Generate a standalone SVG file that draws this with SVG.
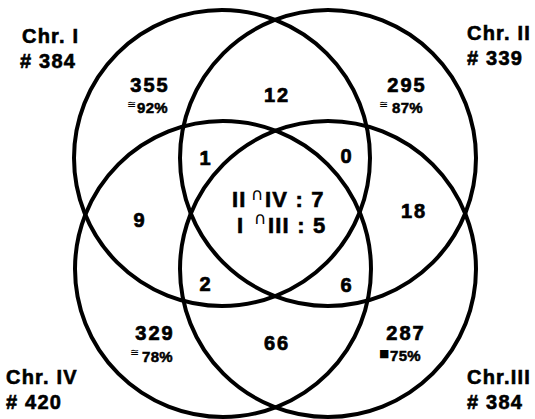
<svg xmlns="http://www.w3.org/2000/svg" width="535" height="419" viewBox="0 0 535 419">
<style>
.c{fill:none;stroke:#000;stroke-width:4}
.l{font-family:"Liberation Sans",Arial,sans-serif;font-weight:bold;font-size:20px;letter-spacing:1.2px;fill:#000;stroke:#000;stroke-width:0.6}
.n{font-family:"Liberation Sans",Arial,sans-serif;font-weight:bold;font-size:20px;letter-spacing:2px;fill:#000;stroke:#000;stroke-width:0.7;text-anchor:middle}
.p{font-family:"Liberation Sans",Arial,sans-serif;font-weight:bold;font-size:15px;letter-spacing:0.3px;fill:#000;stroke:#000;stroke-width:0.5}
.s{font-family:"DejaVu Sans",sans-serif;font-size:11px;fill:#000}
.k{font-family:"Liberation Sans",Arial,sans-serif;font-weight:bold;font-size:22px;letter-spacing:1.2px;fill:#000;stroke:#000;stroke-width:0.6}
.u{font-family:"DejaVu Sans",sans-serif;font-size:17px;fill:#000}
</style>
<rect width="535" height="419" fill="#fff"/>
<g id="chr-I">
<circle class="c" cx="222" cy="158" r="148"/>
<text class="l" x="22" y="43">Chr. I</text>
<text class="l" x="20" y="68"># 384</text>
</g>
<g id="chr-II">
<circle class="c" cx="328" cy="158" r="148"/>
<text class="l" x="467" y="40">Chr. II</text>
<text class="l" x="467" y="65"># 339</text>
</g>
<g id="chr-IV">
<circle class="c" cx="223" cy="269" r="148"/>
<text class="l" x="6" y="384">Chr. IV</text>
<text class="l" x="6" y="409"># 420</text>
</g>
<g id="chr-III">
<circle class="c" cx="328" cy="269" r="148"/>
<text class="l" x="467" y="384">Chr.III</text>
<text class="l" x="467" y="409"># 384</text>
</g>
<g id="regions">
<text class="n" x="150" y="92">355</text>
<text class="s" x="127" y="108">≅</text>
<text class="p" x="137" y="113">92%</text>
<text class="n" x="277" y="102">12</text>
<text class="n" x="407" y="92">295</text>
<text class="s" x="379" y="108">≅</text>
<text class="p" x="392" y="113">87%</text>
<text class="n" x="206" y="165">1</text>
<text class="n" x="347" y="163">0</text>
<text class="n" x="140" y="227">9</text>
<text class="n" x="414" y="218">18</text>
<text class="n" x="206" y="291">2</text>
<text class="n" x="347" y="292">6</text>
<text class="n" x="155" y="340">329</text>
<text class="s" x="130" y="356">≅</text>
<text class="p" x="142" y="362">78%</text>
<text class="n" x="277" y="350">66</text>
<text class="n" x="406" y="340">287</text>
<text class="s" x="379" y="357">■</text>
<text class="p" x="390" y="361">75%</text>
<text class="k" x="232" y="207">II</text>
<text class="u" x="251" y="200">∩</text>
<text class="k" x="265" y="207">IV : 7</text>
<text class="k" x="237" y="233">I</text>
<text class="u" x="254" y="224">∩</text>
<text class="k" x="268" y="233">III : 5</text>
</g>
<g id="connectors"/>
</svg>
